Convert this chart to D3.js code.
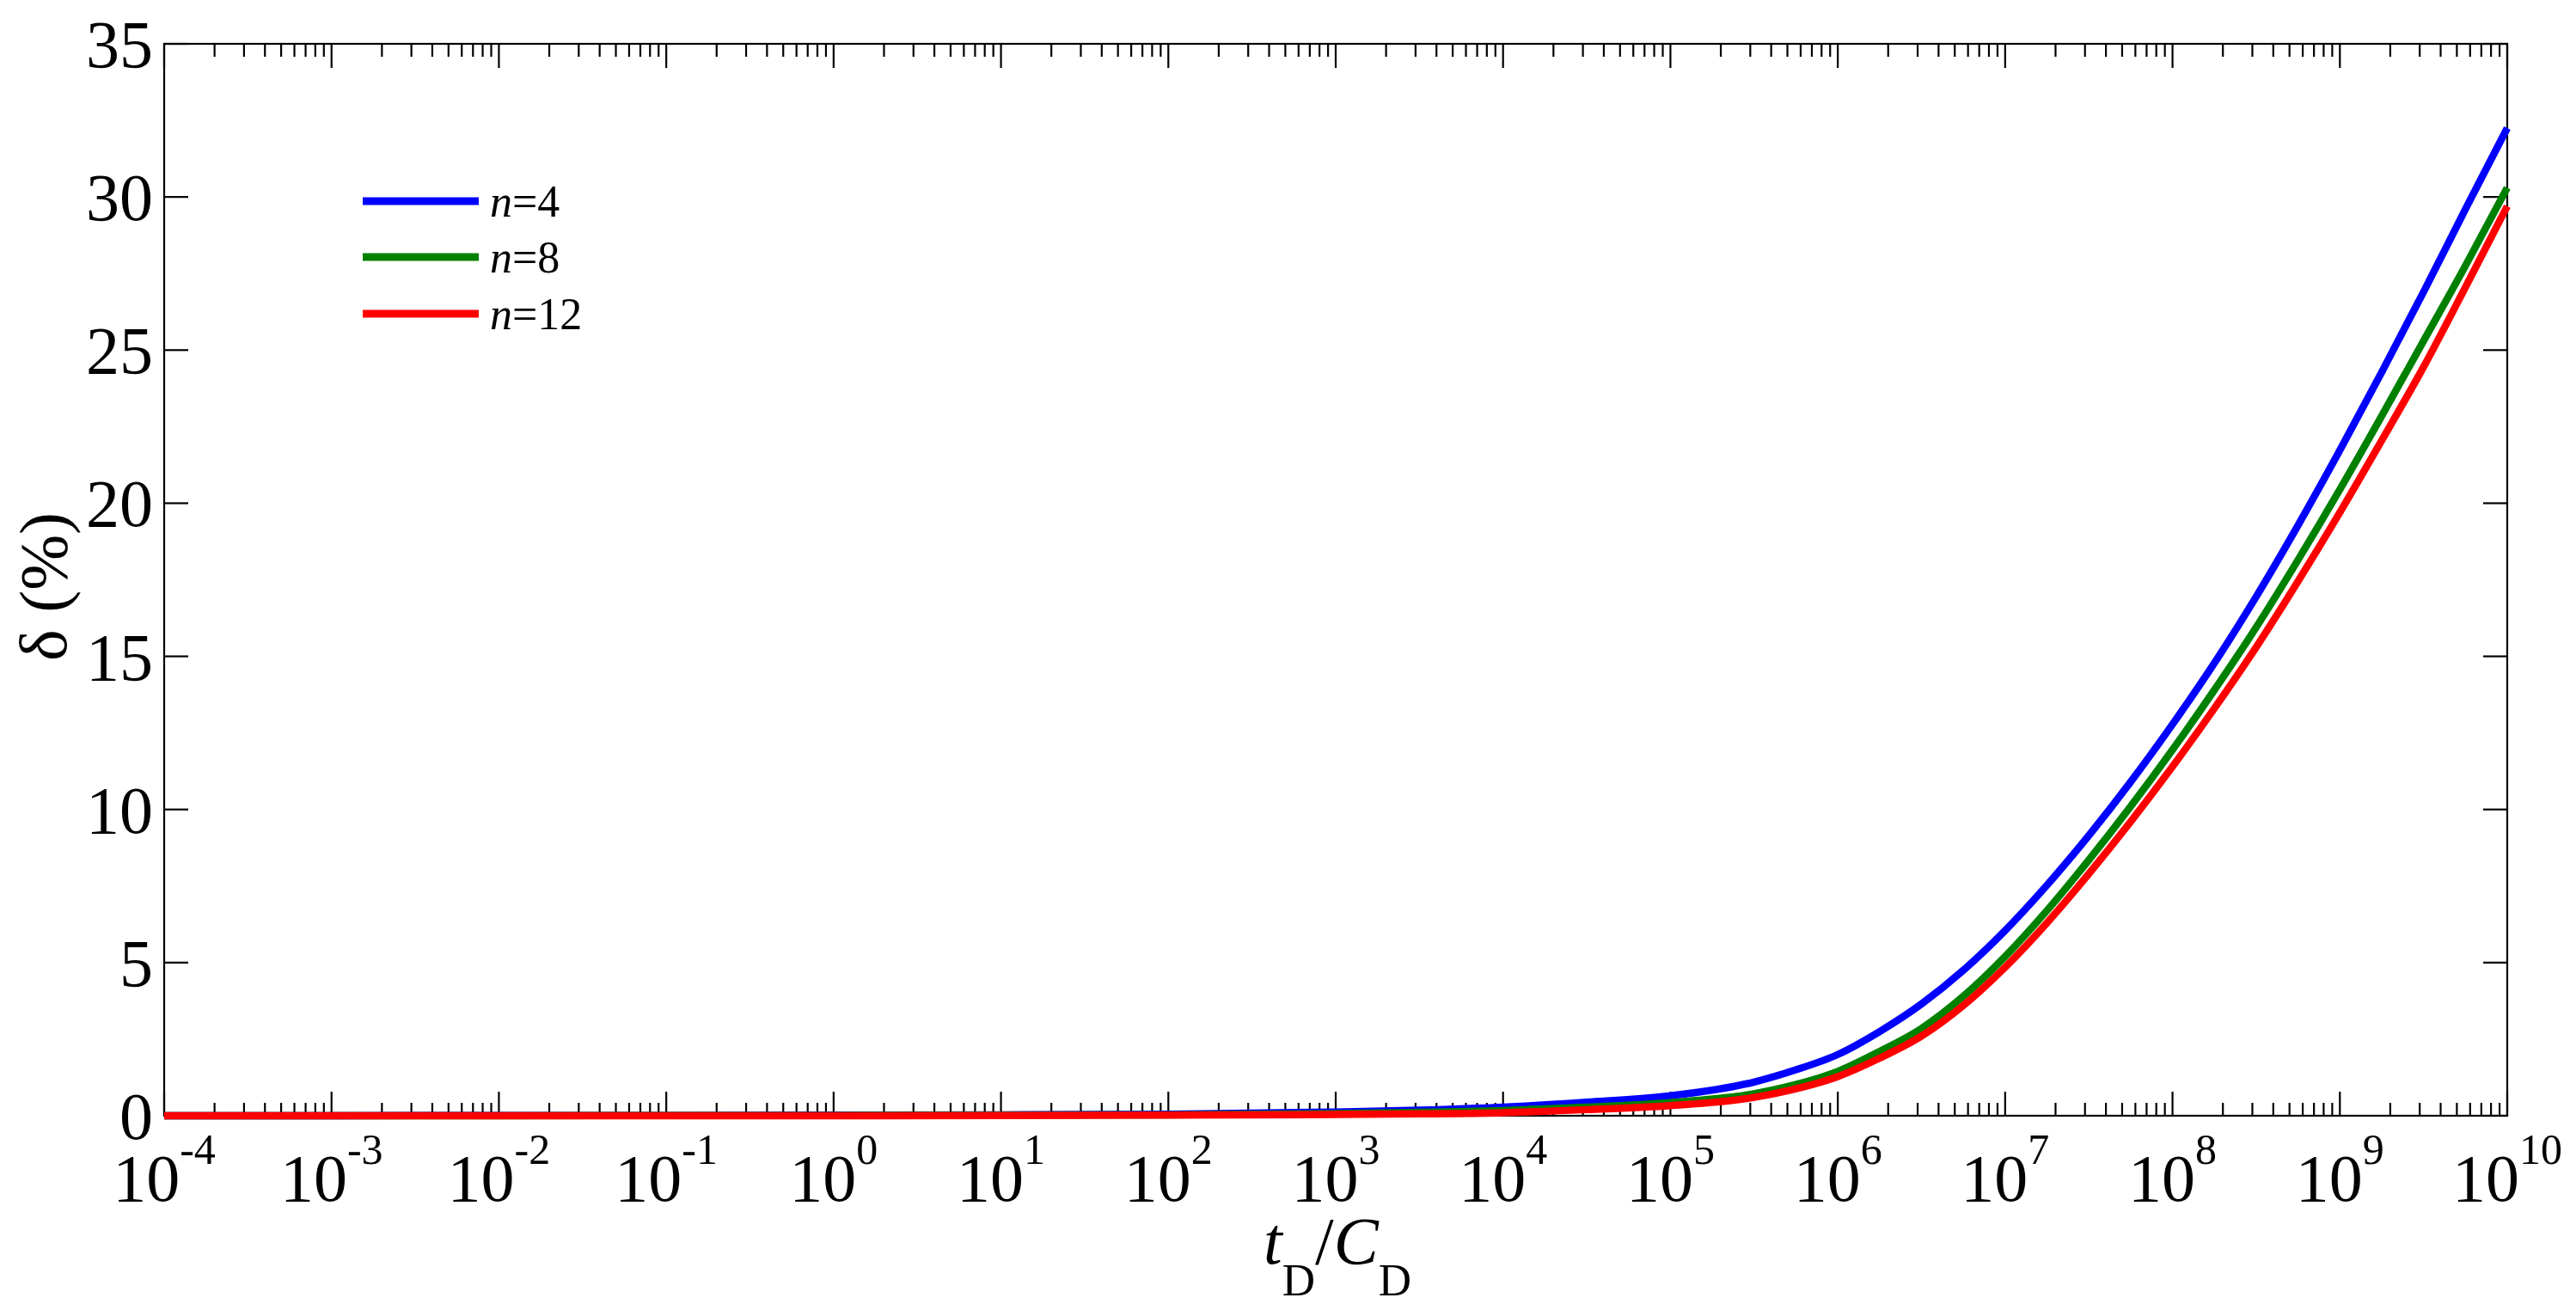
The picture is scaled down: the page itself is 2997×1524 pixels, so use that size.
<!DOCTYPE html>
<html>
<head>
<meta charset="utf-8">
<script src="https://cdn.jsdelivr.net/npm/d3@7"></script>
<style>
  html, body { margin: 0; padding: 0; background: #fff; }
  svg { display: block; }
  text { font-family: "Liberation Serif", "Times New Roman", Times, serif; fill: #000; }
</style>
</head>
<body>
<svg id="chart" width="2997" height="1524"></svg>
<script>
// ---- data (log10 of tD/CD and delta in %) ----
const logT = [-4, -3, -2, -1, 0, 1, 2, 3, 3.5, 4, 4.5, 5, 5.5, 5.75, 6, 6.25, 6.5, 6.75, 7, 7.25, 7.5, 7.75, 8, 8.25, 8.5, 8.75, 9, 9.25, 9.5, 9.75, 10];
const deltaN4  = [0, 0, 0.01, 0.01, 0.02, 0.03, 0.05, 0.12, 0.18, 0.28, 0.44, 0.65, 1.1, 1.5, 2.0, 2.75, 3.65, 4.75, 6.05, 7.53, 9.15, 10.9, 12.78, 14.78, 16.95, 19.28, 21.73, 24.28, 26.9, 29.6, 32.25];
const deltaN8  = [0, 0, 0, 0.01, 0.01, 0.02, 0.03, 0.07, 0.11, 0.17, 0.28, 0.43, 0.72, 1.02, 1.45, 2.1, 2.85, 3.9, 5.2, 6.7, 8.35, 10.1, 11.95, 13.9, 15.95, 18.15, 20.45, 22.85, 25.3, 27.75, 30.3];
const deltaN12 = [0, 0, 0, 0, 0, 0.01, 0.02, 0.04, 0.06, 0.1, 0.2, 0.33, 0.6, 0.88, 1.28, 1.88, 2.6, 3.6, 4.85, 6.3, 7.9, 9.6, 11.4, 13.3, 15.3, 17.45, 19.7, 22.05, 24.45, 27.05, 29.7];
const seriesNames = ["4", "8", "12"];
const seriesColors = ["#0000ff", "#008000", "#ff0000"];
const xTickExps = [-4, -3, -2, -1, 0, 1, 2, 3, 4, 5, 6, 7, 8, 9, 10];
const yTicks = [0, 5, 10, 15, 20, 25, 30, 35];

// ---- layout ----
const L = 191, R = 2917, T = 51, B = 1298;
const svg = d3.select("#chart");
const x = d3.scaleLog().domain([1e-4, 1e10]).range([L, R]);
const y = d3.scaleLinear().domain([0, 35]).range([B, T]);

const g = svg.append("g");
const major = 28, minor = 15, axW = 2.2;

// box
g.append("rect").attr("x", L).attr("y", T).attr("width", R - L).attr("height", B - T)
  .attr("fill", "none").attr("stroke", "#000").attr("stroke-width", axW);

// x ticks (bottom and top, inward)
const minorVals = [];
xTickExps.slice(0, -1).forEach(e => { for (let m = 2; m <= 9; m++) minorVals.push(m * Math.pow(10, e)); });
const majorVals = xTickExps.map(e => Math.pow(10, e));
function vtick(vals, len) {
  vals.forEach(v => {
    const px = x(v);
    g.append("line").attr("x1", px).attr("x2", px).attr("y1", B).attr("y2", B - len)
      .attr("stroke", "#000").attr("stroke-width", axW);
    g.append("line").attr("x1", px).attr("x2", px).attr("y1", T).attr("y2", T + len)
      .attr("stroke", "#000").attr("stroke-width", axW);
  });
}
vtick(minorVals, minor);
vtick(majorVals, major);

// y ticks (left and right)
yTicks.forEach(v => {
  const py = y(v);
  g.append("line").attr("x1", L).attr("x2", L + major).attr("y1", py).attr("y2", py)
    .attr("stroke", "#000").attr("stroke-width", axW);
  g.append("line").attr("x1", R).attr("x2", R - major).attr("y1", py).attr("y2", py)
    .attr("stroke", "#000").attr("stroke-width", axW);
  g.append("text").attr("x", 178).attr("y", py + 27).attr("text-anchor", "end")
    .attr("font-size", 78).text(v);
});

// x tick labels 10^e
xTickExps.forEach(e => {
  const t = g.append("text").attr("x", x(Math.pow(10, e))).attr("y", 1397)
    .attr("text-anchor", "middle").attr("font-size", 78);
  t.append("tspan").text("10");
  t.append("tspan").attr("font-size", 50).attr("dy", -43).text(e < 0 ? "-" + (-e) : String(e));
});

// axis labels
const xl = g.append("text").attr("x", (L + R) / 2 + 2).attr("y", 1470)
  .attr("text-anchor", "middle").attr("font-size", 78);
xl.append("tspan").attr("font-style", "italic").text("t");
xl.append("tspan").attr("font-size", 53).attr("dy", 37).text("D");
xl.append("tspan").attr("dy", -37).text("/");
xl.append("tspan").attr("font-style", "italic").text("C");
xl.append("tspan").attr("font-size", 53).attr("dy", 37).text("D");

g.append("text").attr("transform", `translate(77,${(T + B) / 2 + 8}) rotate(-90)`)
  .attr("text-anchor", "middle").attr("font-size", 78).text("δ (%)");

// curves
const allSeries = [deltaN4, deltaN8, deltaN12];
const line = d3.line()
  .x(d => x(Math.pow(10, d[0])))
  .y(d => y(d[1]))
  .curve(d3.curveMonotoneX);
allSeries.forEach((vals, i) => {
  const pts = logT.map((e, k) => [e, vals[k]]);
  g.append("path").datum(pts).attr("d", line)
    .attr("fill", "none").attr("stroke", seriesColors[i]).attr("stroke-width", 8.5)
    .attr("stroke-linejoin", "round");
});

// legend
const legY = [234, 299, 365];
seriesNames.forEach((n, i) => {
  g.append("line").attr("x1", 422).attr("x2", 557).attr("y1", legY[i]).attr("y2", legY[i])
    .attr("stroke", seriesColors[i]).attr("stroke-width", 9);
  const t = g.append("text").attr("x", 570).attr("y", legY[i] + 18).attr("font-size", 52);
  t.append("tspan").attr("font-style", "italic").text("n");
  t.append("tspan").text("=" + n);
});
</script>
</body>
</html>
